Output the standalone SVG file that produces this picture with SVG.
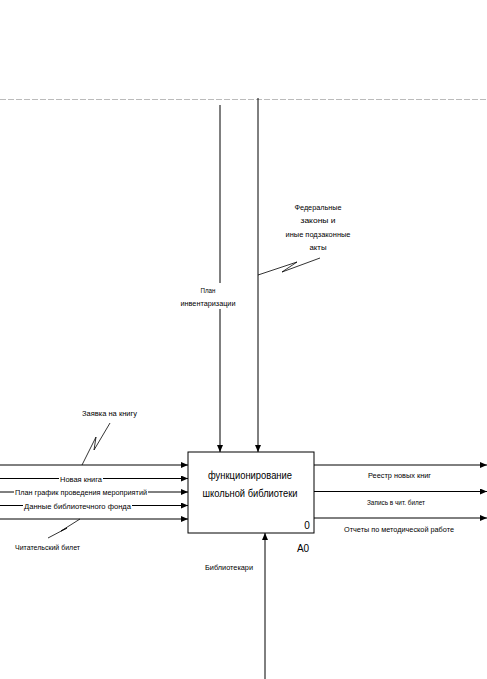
<svg xmlns="http://www.w3.org/2000/svg" width="487" height="679" viewBox="0 0 487 679">
<defs>
<marker id="ah" markerWidth="7" markerHeight="6" refX="7" refY="3" orient="auto" markerUnits="userSpaceOnUse">
<path d="M0,0 L7,3 L0,6 Z" fill="#000"/>
</marker>
<style>
.ln{stroke:#000;stroke-width:1;fill:none}
.sq{stroke:#000;stroke-width:0.8;fill:none}
.t{font-family:"Liberation Sans",Arial,sans-serif;font-size:8px;fill:#000;text-anchor:middle}
.tb{font-family:"Liberation Sans",Arial,sans-serif;font-size:10px;fill:#000;text-anchor:middle}
</style>
</defs>
<rect width="487" height="679" fill="#fff"/>
<line x1="0" y1="99.5" x2="487" y2="99.5" stroke="#bbb" stroke-width="1" stroke-dasharray="6,2"/>
<g id="connectors">
<line class="ln" x1="220" y1="105" x2="220" y2="452" marker-end="url(#ah)"/>
<line class="ln" x1="258" y1="98" x2="258" y2="452" marker-end="url(#ah)"/>
<polyline class="sq" points="258,275 297,262 282,272 320,258"/>
<line class="ln" x1="0" y1="465" x2="188" y2="465" marker-end="url(#ah)"/>
<line class="ln" x1="0" y1="478.5" x2="188" y2="478.5" marker-end="url(#ah)"/>
<line class="ln" x1="0" y1="492" x2="188" y2="492" marker-end="url(#ah)"/>
<line class="ln" x1="0" y1="505.5" x2="188" y2="505.5" marker-end="url(#ah)"/>
<line class="ln" x1="0" y1="519" x2="188" y2="519" marker-end="url(#ah)"/>
<polyline class="sq" points="82,465 96,437 94,450 110,423"/>
<polyline class="sq" points="80,519 61,531 67,528 48,538"/>
<line class="ln" x1="314" y1="465" x2="487" y2="465" marker-end="url(#ah)"/>
<line class="ln" x1="314" y1="491.5" x2="487" y2="491.5" marker-end="url(#ah)"/>
<line class="ln" x1="314" y1="518" x2="487" y2="518" marker-end="url(#ah)"/>
<line class="ln" x1="265" y1="679" x2="265" y2="533" marker-end="url(#ah)"/>
</g>
<g id="labels">
<text class="t" x="318" y="210" textLength="47" lengthAdjust="spacingAndGlyphs">Федеральные</text>
<text class="t" x="318" y="223" textLength="35" lengthAdjust="spacingAndGlyphs">законы и</text>
<text class="t" x="318" y="237" textLength="65" lengthAdjust="spacingAndGlyphs">иные подзаконные</text>
<text class="t" x="318" y="250" textLength="17" lengthAdjust="spacingAndGlyphs">акты</text>
<rect x="180" y="283" width="60" height="26" fill="#fff"/>
<text class="t" x="208" y="293" textLength="15" lengthAdjust="spacingAndGlyphs">План</text>
<text class="t" x="208" y="306" textLength="55" lengthAdjust="spacingAndGlyphs">инвентаризации</text>
<text class="t" x="109.5" y="416" textLength="55" lengthAdjust="spacingAndGlyphs">Заявка на книгу</text>
<rect x="59" y="474" width="44" height="9" fill="#fff"/>
<text class="t" x="81" y="481.5" textLength="42" lengthAdjust="spacingAndGlyphs">Новая книга</text>
<rect x="14" y="487" width="134" height="9" fill="#fff"/>
<text class="t" x="81" y="495" textLength="132" lengthAdjust="spacingAndGlyphs">План график проведения мероприятий</text>
<rect x="23" y="501" width="109" height="9" fill="#fff"/>
<text class="t" x="77.5" y="508.5" textLength="107" lengthAdjust="spacingAndGlyphs">Данные библиотечного фонда</text>
<text class="t" x="47.5" y="550" textLength="65" lengthAdjust="spacingAndGlyphs">Читательский билет</text>
<text class="t" x="399.5" y="478" textLength="63" lengthAdjust="spacingAndGlyphs">Реестр новых книг</text>
<text class="t" x="396" y="505" textLength="58" lengthAdjust="spacingAndGlyphs">Запись в чит. билет</text>
<text class="t" x="399" y="532" textLength="110" lengthAdjust="spacingAndGlyphs">Отчеты по методической работе</text>
<text class="t" x="229" y="570" textLength="48" lengthAdjust="spacingAndGlyphs">Библиотекари</text>
</g>
<g id="A0">
<rect x="188" y="452" width="126" height="81" fill="#fff" stroke="#000" stroke-width="1"/>
<text class="tb" x="250" y="479" textLength="84" lengthAdjust="spacingAndGlyphs">функционирование</text>
<text class="tb" x="250" y="497" textLength="95" lengthAdjust="spacingAndGlyphs">школьной библиотеки</text>
<text class="tb" x="307" y="529">0</text>
<text class="tb" x="303" y="552">A0</text>
</g>
</svg>
